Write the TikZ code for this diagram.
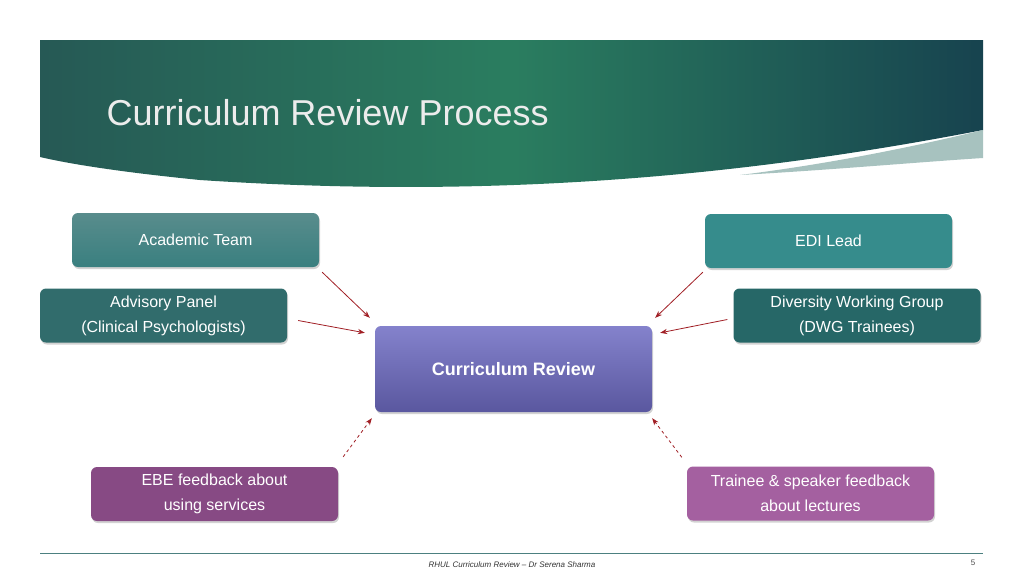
\documentclass[tikz,border=0pt]{standalone}
\usepackage{fontspec}
\setmainfont{Liberation Sans}
\usetikzlibrary{positioning,arrows.meta,shadows,calc}
\definecolor{hdA}{HTML}{17434F}
\definecolor{hdB}{HTML}{2F6F6A}
\definecolor{arr}{HTML}{A11F25}
\definecolor{crTop}{HTML}{8482CC}
\definecolor{crBot}{HTML}{5A579F}
\definecolor{ebeC}{HTML}{874A84}
\definecolor{trnC}{HTML}{A460A0}
\tikzset{
  box/.style={rounded corners=6pt, minimum width=247pt, minimum height=54pt,
    text=white, align=center, font=\fontsize{16}{25}\selectfont,
    drop shadow={opacity=0.35, shadow xshift=1pt, shadow yshift=-2pt}},
  feed/.style={-{Stealth[length=7pt]}, arr, thick},
  feedd/.style={feed, dashed}
}
\begin{document}
\begin{tikzpicture}[x=1pt,y=-1pt]
  \useasboundingbox (0,0) rectangle (1024,576);
  \fill[white] (0,0) rectangle (1024,576);
  % Header
  \shade[left color=hdB!80!black, right color=hdA, middle color=hdB!90!green]
    (40,40) -- (983,40) -- (983,130) .. controls (750,175) and (500,200) .. (200,180)
    .. controls (120,172) and (70,164) .. (40,157) -- cycle;
  \fill[hdB!60!white, opacity=0.7] (983,130) .. controls (900,150) and (820,165) .. (740,175)
    .. controls (830,170) and (920,162) .. (983,158) -- cycle;
  \node[anchor=west, text=white!85!gray, font=\fontsize{36}{42}\selectfont] (title) at (103,113) {Curriculum Review Process};
  % Boxes
  \node[box, top color=teal!45!gray!90, bottom color=teal!55!gray, rounded corners=6pt] (acad) at (195.5,240) {Academic Team};
  \node[box, fill=teal!75!gray!90] (edi) at (828.5,241) {EDI Lead};
  \node[box, fill=teal!55!gray!85!black] (adv) at (163.5,315.5) {Advisory Panel\\(Clinical Psychologists)};
  \node[box, fill=teal!60!black!85] (dwg) at (857,315.5) {Diversity Working Group\\(DWG Trainees)};
  \node[box, minimum width=277pt, minimum height=86pt, top color=crTop, bottom color=crBot, rounded corners=6pt,
    font=\fontsize{18}{22}\selectfont\bfseries] (cr) at (513.5,369) {Curriculum Review};
  \node[box, fill=ebeC] (ebe) at (214.5,494) {\fontsize{16}{19}\selectfont EBE feedback about\\using services};
  \node[box, fill=trnC] (trn) at (810.5,493.5) {Trainee \& speaker feedback\\about lectures};
  % Connectors
  \coordinate (acadOut) at ($(acad.south east)+(3,5)$);
  \coordinate (crAcad) at ($(cr.north west)+(-5,-8)$);
  \coordinate (advOut) at ($(adv.east)+(11,5)$);
  \coordinate (crAdv) at ($(cr.north west)+(-10,7)$);
  \coordinate (ediOut) at ($(edi.south west)+(-2,4)$);
  \coordinate (crEdi) at ($(cr.north east)+(3,-8)$);
  \coordinate (dwgOut) at ($(dwg.west)+(-6,4)$);
  \coordinate (crDwg) at ($(cr.north east)+(8,7)$);
  \coordinate (ebeOut) at ($(ebe.north east)+(5,-10)$);
  \coordinate (crEbe) at ($(cr.south west)+(-3,6)$);
  \coordinate (trnOut) at ($(trn.north west)+(-5,-9)$);
  \coordinate (crTrn) at ($(cr.south east)+(0,6)$);
  \draw[feed] (acadOut) -- (crAcad);
  \draw[feed] (advOut) -- (crAdv);
  \draw[feed] (ediOut) -- (crEdi);
  \draw[feed] (dwgOut) -- (crDwg);
  \draw[feedd] (ebeOut) -- (crEbe);
  \draw[feedd] (trnOut) -- (crTrn);
  % Footer
  \draw[teal!40!gray, line width=0.8pt] (40,553) -- (983,553);
  \node[font=\fontsize{8}{10}\selectfont\itshape, text=black!80] (foot) at (512,565) {RHUL Curriculum Review – Dr Serena Sharma};
  \node[font=\fontsize{8}{10}\selectfont, text=black!70] (page) at (973,563) {5};
\end{tikzpicture}
\end{document}
